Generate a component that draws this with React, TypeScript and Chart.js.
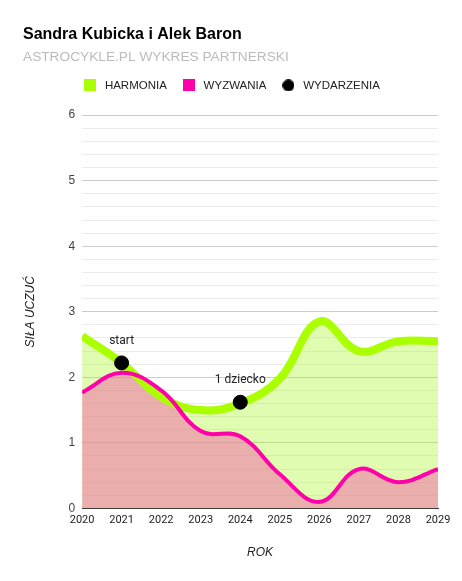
import React, { useEffect, useRef } from "react";
import { Chart, registerables } from "chart.js";

Chart.register(...registerables);

const titleText = "Sandra Kubicka i Alek Baron";
const subtitleText = "ASTROCYKLE.PL WYKRES PARTNERSKI";
const years = [2020, 2021, 2022, 2023, 2024, 2025, 2026, 2027, 2028, 2029];
const harmonia = [2.63, 2.22, 1.7, 1.5, 1.6, 1.98, 2.85, 2.4, 2.55, 2.55];
const wyzwania = [1.77, 2.07, 1.8, 1.18, 1.1, 0.52, 0.1, 0.6, 0.4, 0.6];
const eventYears = [2021, 2024];
const eventValues = [2.22, 1.62];
const eventLabels = ["start", "1 dziecko"];
const seriesNames = ["HARMONIA", "WYZWANIA", "WYDARZENIA"];
const seriesColors = ["#aaff00", "#ff00aa", "#000000"];
const yTitle = "SIŁA UCZUĆ";
const xTitle = "ROK";

function makeMarker(color: string, circle: boolean) {
  const c = document.createElement("canvas");
  c.width = 12;
  c.height = 12;
  const g = c.getContext("2d")!;
  g.fillStyle = color;
  if (circle) {
    g.beginPath();
    g.arc(6, 6, 6, 0, Math.PI * 2);
    g.fill();
  } else {
    g.fillRect(0, 0, 12, 12);
  }
  return c;
}

const eventLabelPlugin = {
  id: "eventLabels",
  afterDatasetsDraw(chart: any) {
    const meta = chart.getDatasetMeta(2);
    const ctx = chart.ctx;
    ctx.save();
    ctx.font = "12px Roboto, 'Liberation Sans', Arial";
    ctx.fillStyle = "#222";
    ctx.textAlign = "center";
    ctx.textBaseline = "middle";
    meta.data.forEach((pt: any, i: number) => {
      ctx.fillText(eventLabels[i], pt.x, pt.y - 22);
    });
    ctx.restore();
  },
};

const legendSpacer = {
  id: "legendSpacer",
  beforeInit(chart: any) {
    const orig = chart.legend.fit;
    chart.legend.fit = function () {
      orig.bind(chart.legend)();
      this.height += 14;
    };
  },
};

export default function App() {
  const ref = useRef<HTMLCanvasElement>(null);
  useEffect(() => {
    document.body.style.margin = "0";
    const isInt = (v: number) => Math.abs(v - Math.round(v)) < 1e-6;
    const markers = [
      makeMarker(seriesColors[0], false),
      makeMarker(seriesColors[1], false),
      makeMarker(seriesColors[2], true),
    ];
    const chart = new Chart(ref.current!, {
      type: "line",
      data: {
        datasets: [
          {
            label: seriesNames[0],
            data: years.map((x, i) => ({ x, y: harmonia[i] })),
            borderColor: seriesColors[0],
            backgroundColor: "rgba(158,246,8,0.32)",
            borderWidth: 8,
            pointRadius: 0,
            tension: 0.4,
            fill: "origin",
            order: 3,
          },
          {
            label: seriesNames[1],
            data: years.map((x, i) => ({ x, y: wyzwania[i] })),
            borderColor: seriesColors[1],
            backgroundColor: "rgba(246,100,170,0.5)",
            borderWidth: 4,
            pointRadius: 0,
            tension: 0.4,
            fill: "origin",
            order: 2,
          },
          {
            label: seriesNames[2],
            data: eventYears.map((x, i) => ({ x, y: eventValues[i] })),
            borderColor: seriesColors[2],
            backgroundColor: seriesColors[2],
            showLine: false,
            pointRadius: 7,
            pointHoverRadius: 7,
            fill: false,
            order: 1,
          },
        ],
      },
      options: {
        animation: false,
        responsive: false,
        layout: { padding: { left: 23, right: 24, top: 25, bottom: 21 } },
        plugins: {
          filler: { drawTime: "beforeDatasetsDraw" } as any,
          tooltip: { enabled: false },
          title: {
            display: true,
            text: titleText,
            align: "start",
            color: "#000",
            font: { family: "'Liberation Sans', Arial", size: 16, weight: "bold" },
            padding: { top: 0, bottom: 5 },
          },
          subtitle: {
            display: true,
            text: subtitleText,
            align: "start",
            color: "#bbb",
            font: { family: "'Liberation Sans', Arial", size: 13.7 },
            padding: { top: 0, bottom: 1 },
          },
          legend: {
            display: true,
            position: "top",
            labels: {
              usePointStyle: true,
              pointStyleWidth: 18,
              boxWidth: 12,
              boxHeight: 12,
              color: "#222",
              padding: 13,
              font: { family: "'Liberation Sans', Arial", size: 11.5 },
              generateLabels: () =>
                seriesNames.map((t, i) => ({
                  text: t,
                  fillStyle: seriesColors[i],
                  strokeStyle: seriesColors[i],
                  lineWidth: 0,
                  pointStyle: markers[i],
                  datasetIndex: i,
                  fontColor: "#222",
                })) as any,
            },
          },
        },
        scales: {
          x: {
            type: "linear",
            min: 2020,
            max: 2029,
            ticks: {
              stepSize: 1,
              color: "#222",
              font: { family: "Roboto, 'Liberation Sans', Arial", size: 11 },
              callback: (v: any) => String(v),
              maxRotation: 0,
              padding: 5,
            },
            grid: { display: false, drawTicks: false },
            border: { display: true, color: "#333", width: 1 },
            title: {
              display: true,
              text: xTitle,
              color: "#222",
              font: { family: "'Liberation Sans', Arial", size: 12, style: "italic" },
              padding: { top: 14, bottom: 0 },
            },
          },
          y: {
            min: 0,
            max: 6,
            ticks: {
              stepSize: 0.2,
              autoSkip: false,
              color: "#444",
              font: { family: "'Liberation Sans', Arial", size: 12 },
              callback: (v: any) => (isInt(v) ? String(Math.round(v)) : ""),
              padding: 7,
            },
            grid: {
              drawTicks: false,
              color: (c: any) => (isInt(c.tick.value) ? "#cccccc" : "#ececec"),
            },
            border: { display: false },
            title: {
              display: true,
              text: yTitle,
              color: "#222",
              font: { family: "'Liberation Sans', Arial", size: 12, style: "italic" },
              padding: { top: 0, bottom: 24 },
            },
          },
        },
      },
      plugins: [eventLabelPlugin, legendSpacer],
    } as any);
    return () => chart.destroy();
  }, []);
  return <canvas ref={ref} width={462} height={581} style={{ display: "block" }} />;
}
